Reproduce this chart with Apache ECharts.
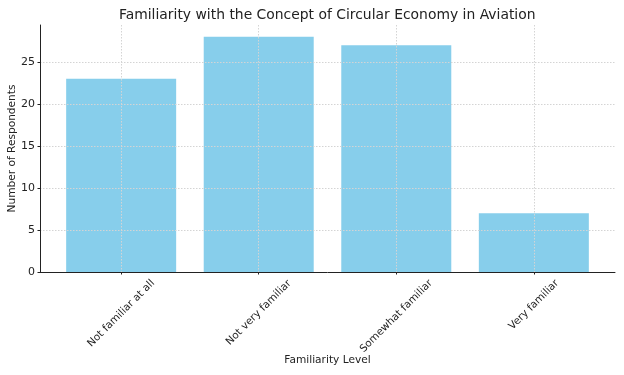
<!DOCTYPE html>
<html>
<head>
<meta charset="utf-8">
<script src="https://cdn.jsdelivr.net/npm/echarts@6/dist/echarts.min.js"></script>
<style>
  html, body { margin: 0; padding: 0; background: #fff; }
  #main { width: 624px; height: 375px; }
</style>
</head>
<body>
<div id="main"></div>
<script>
var categories = ['Not familiar at all', 'Not very familiar', 'Somewhat familiar', 'Very familiar']
var respondents = [23, 28, 27, 7]
var yTicks = [0, 5, 10, 15, 20, 25]

var FONT = 'DejaVu Sans'
var TICK_SIZE = 10.4
var INK = '#222'
var catIdx = categories.map(function (c, i) { return i })

// matplotlib centres the rotated label box under its tick, echarts rotates
// around the anchor -> push each label down by half its rotated height
var ctx = document.createElement('canvas').getContext('2d')
ctx.font = TICK_SIZE + 'px "' + FONT + '"'
var rich = {}
categories.forEach(function (c, i) {
  var w = ctx.measureText(c).width
  var p = Math.round((w + TICK_SIZE) * 0.5)
  rich['c' + i] = {fontSize: TICK_SIZE, fontFamily: FONT, color: INK, padding: [p, p, 0, 0]}
})

var gridLine = {show: true, lineStyle: {color: '#d4d4d4', width: 1, type: [1.5, 1.5]}}

var chart = echarts.init(document.getElementById('main'))
chart.setOption({
  animation: false,
  textStyle: {fontFamily: FONT},
  title: {
    text: 'Familiarity with the Concept of Circular Economy in Aviation',
    left: 114,
    top: 3,
    textStyle: {fontSize: 13.9, fontWeight: 'normal', color: INK, fontFamily: FONT}
  },
  grid: {left: 40, right: 9, top: 25, bottom: 103, outerBoundsMode: 'none'},
  xAxis: {
    type: 'value',
    min: -0.59,
    max: 3.59,
    z: 3,
    name: 'Familiarity Level',
    nameLocation: 'middle',
    nameGap: 83,
    nameMoveOverlap: false,
    nameTextStyle: {fontSize: 10.6, color: INK, fontFamily: FONT},
    axisLine: {onZero: false, lineStyle: {color: INK, width: 1}},
    axisTick: {show: true, length: 2.5, customValues: catIdx, lineStyle: {color: INK}},
    axisLabel: {
      customValues: catIdx,
      rotate: 45,
      align: 'center',
      verticalAlign: 'middle',
      margin: 6,
      formatter: function (v) { return '{c' + v + '|' + categories[v] + '}' },
      rich: rich
    },
    splitLine: gridLine
  },
  yAxis: {
    type: 'value',
    min: 0,
    max: 29.4,
    z: 3,
    name: 'Number of Respondents',
    nameLocation: 'middle',
    nameGap: 22,
    nameMoveOverlap: false,
    nameTextStyle: {fontSize: 10.6, color: INK, fontFamily: FONT},
    axisLine: {show: true, onZero: false, lineStyle: {color: INK, width: 1}},
    axisTick: {show: true, length: 2.5, customValues: yTicks, lineStyle: {color: INK}},
    axisLabel: {customValues: yTicks, margin: 5, fontSize: 11, color: INK, fontFamily: FONT},
    splitLine: gridLine
  },
  series: [
    {
      type: 'bar',
      z: 2,
      barWidth: 110,
      data: respondents.map(function (v, i) { return [i, v] }),
      itemStyle: {color: '#87ceeb'}
    }
  ]
})
</script>
</body>
</html>
